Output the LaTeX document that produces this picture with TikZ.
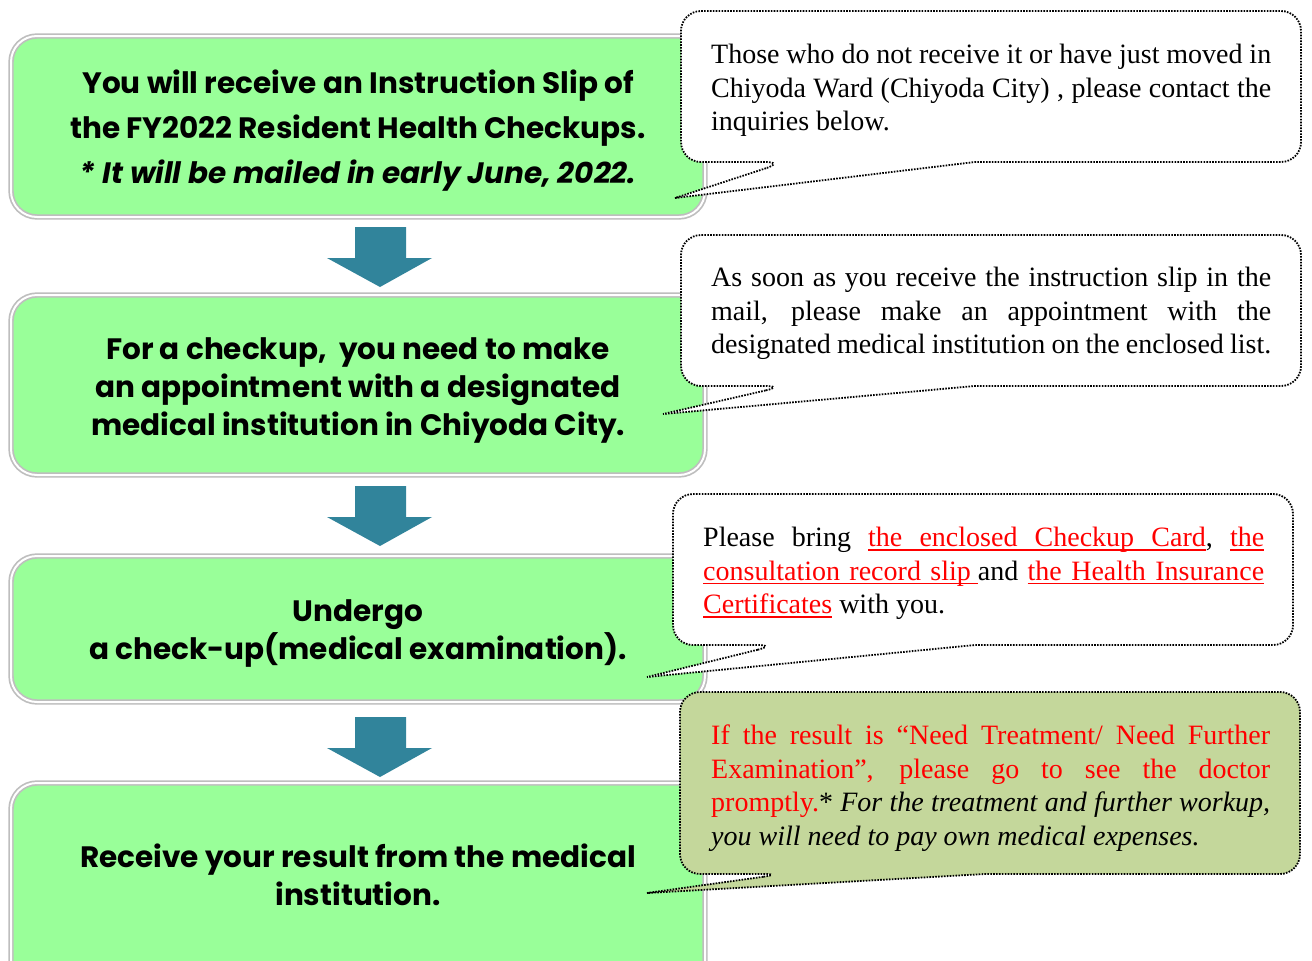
\documentclass[tikz,border=0pt]{standalone}
\usepackage{fontspec}
\setmainfont{Liberation Serif}
\newfontfamily\gothic{Poppins}
\definecolor{boxgreen}{RGB}{153,255,153}
\definecolor{boxgray}{RGB}{190,190,190}
\definecolor{arrowteal}{RGB}{49,132,155}
\definecolor{olivefill}{RGB}{196,215,155}
\definecolor{txtred}{RGB}{255,0,0}
\newcommand\ulw[1]{\setbox0\hbox{#1}\rlap{\vrule height -2.8pt depth 4.1pt width \wd0}\box0}
\newcommand\gapsp{\hskip 0.25em plus 1fil\relax}
\newcommand\gapul{\leaders\hrule height -2.8pt depth 4.1pt\hskip 0.25em plus 1fil\relax}
\newcommand\gapulfix{\leaders\hrule height -2.8pt depth 4.1pt\hskip 0.25em\relax}
\tikzset{
  gbox/.style={rounded corners=26pt, fill=boxgreen, draw=boxgray, line width=1.7pt,
    double=white, double distance=2pt, inner sep=0pt},
  gtext/.style={font=\gothic\bfseries\fontsize{29.5}{38}\selectfont, align=center, inner sep=0pt},
  downarrow/.style={fill=arrowteal, draw=none},
  callout/.style={draw=black, line width=1.8pt, dash pattern=on 1.6pt off 1.3pt, fill=white},
  pointerfill/.style={fill=white, draw=none},
  ctext/.style={font=\fontsize{28}{33.5}\selectfont, text width=560pt, align=justify,
    inner sep=0pt, anchor=north west}
}
\begin{document}
\begin{tikzpicture}[x=1pt,y=-1pt]
\useasboundingbox (0,0) rectangle (1312,961);
\fill[white] (0,0) rectangle (1312,961);

% callout pointer tips
\coordinate (p1) at (675,198);
\coordinate (p2) at (663,414);
\coordinate (p3) at (647,677);
\coordinate (p4) at (647,893);

% pointer fills (behind the step boxes)
\fill[pointerfill] (785,162) -- (p1) -- (975,162) -- cycle;
\fill[pointerfill] (785,386) -- (p2) -- (975,386) -- cycle;
\fill[pointerfill] (777,645) -- (p3) -- (975,645) -- cycle;
\fill[pointerfill, fill=olivefill] (783,874) -- (p4) -- (985,874) -- cycle;

% green step boxes
\node[gbox, minimum width=694pt, minimum height=181pt] (b1) at (358,126.5) {};
\node[gbox, minimum width=694pt, minimum height=180pt] (b2) at (358,385) {};
\node[gbox, minimum width=694pt, minimum height=146pt] (b3) at (358,629) {};
\node[gbox, minimum width=694pt, minimum height=217pt] (b4) at (358,891.5) {};

\node[gtext, font=\gothic\bfseries\fontsize{29.5}{45}\selectfont] (t1) at (358,131)
  {You will receive an Instruction Slip of\\the FY2022 Resident Health Checkups.\\\itshape * It will be mailed in early June, 2022.};
\node[gtext] (t2) at (358,390.5)
  {For a checkup,\ \ you need to make\\an appointment with a designated\\medical institution in Chiyoda City.};
\node[gtext] (t3) at (358,634)
  {Undergo\\a check-up(medical examination).};
\node[gtext] (t4) at (358,874.5)
  {Receive your result from the medical\\institution.};

% arrows between steps
\foreach \dy in {0,259,490}{
  \fill[downarrow] (355,227+\dy) -- (406,227+\dy) -- (406,258+\dy) -- (432,258+\dy)
    -- (380,287+\dy) -- (327,258+\dy) -- (355,258+\dy) -- cycle;
}

% callout bodies with pointer outlines
\path[callout] (785,162) [sharp corners] -- (p1) -- (975,162) [rounded corners=20pt]
  -- (1301,162) -- (1301,11) -- (681,11) -- (681,162) -- cycle;
\path[callout] (785,386) [sharp corners] -- (p2) -- (975,386) [rounded corners=20pt]
  -- (1301,386) -- (1301,235) -- (681,235) -- (681,386) -- cycle;
\path[callout] (777,645) [sharp corners] -- (p3) -- (975,645) [rounded corners=20pt]
  -- (1293,645) -- (1293,494) -- (673,494) -- (673,645) -- cycle;
\path[callout, fill=olivefill] (783,874) [sharp corners] -- (p4) -- (985,874) [rounded corners=20pt]
  -- (1300,874) -- (1300,692) -- (680,692) -- (680,874) -- cycle;

\node[ctext] (c1) at (711,44)
  {Those who do not receive it or have just moved in\linebreak Chiyoda Ward (Chiyoda City) , please contact the\linebreak inquiries below.};
\node[ctext] (c2) at (711,267)
  {As soon as you receive the instruction slip in the\linebreak mail, please make an appointment with the\linebreak designated medical institution on the enclosed list.};
\node[ctext, text width=561pt] (c3) at (703,527)
  {\hbox to 561pt{Please\gapsp bring\gapsp{\color{txtred}\ulw{the}\gapul\ulw{enclosed}\gapul\ulw{Checkup}\gapul\ulw{Card}},\gapsp{\color{txtred}\ulw{the}}}
   \hbox to 561pt{{\color{txtred}\ulw{consultation}\gapul\ulw{record}\gapul\ulw{slip}\gapulfix}and\gapsp{\color{txtred}\ulw{the}\gapul\ulw{Health}\gapul\ulw{Insurance}}}
   \hbox{{\color{txtred}\ulw{Certificates}} with you.}};
\node[ctext, text width=559pt] (c4) at (711,725)
  {\textcolor{txtred}{If the result is “Need Treatment/ Need Further\linebreak Examination”, please go to see the doctor\linebreak promptly.}* \textit{For the treatment and further workup,\linebreak you will need to pay own medical expenses.}};
\end{tikzpicture}
\end{document}
